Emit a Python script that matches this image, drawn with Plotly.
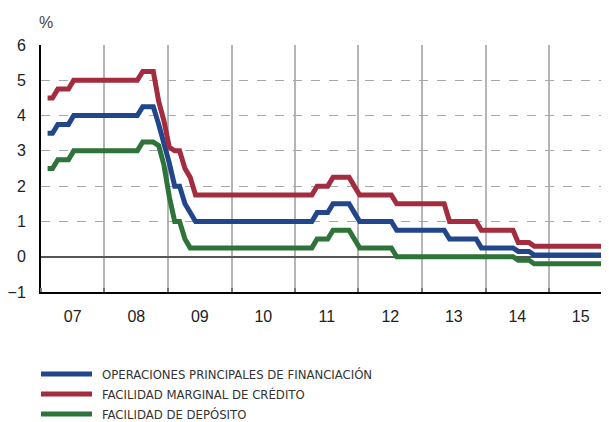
import pandas as pd
import plotly.graph_objects as go

# monthly data, Jan 2007 - Dec 2015
months = pd.date_range('2007-01-08', periods=108, freq='MS') + pd.Timedelta(days=7)

principal = [
    3.5, 3.5, 3.75, 3.75, 3.75, 4.0, 4.0, 4.0, 4.0, 4.0, 4.0, 4.0,          # 2007
    4.0, 4.0, 4.0, 4.0, 4.0, 4.0, 4.25, 4.25, 4.25, 3.75, 3.25, 2.65,       # 2008
    2.0, 2.0, 1.5, 1.25, 1.0, 1.0, 1.0, 1.0, 1.0, 1.0, 1.0, 1.0,            # 2009
    1.0, 1.0, 1.0, 1.0, 1.0, 1.0, 1.0, 1.0, 1.0, 1.0, 1.0, 1.0,             # 2010
    1.0, 1.0, 1.0, 1.25, 1.25, 1.25, 1.5, 1.5, 1.5, 1.5, 1.25, 1.0,         # 2011
    1.0, 1.0, 1.0, 1.0, 1.0, 1.0, 0.75, 0.75, 0.75, 0.75, 0.75, 0.75,       # 2012
    0.75, 0.75, 0.75, 0.75, 0.5, 0.5, 0.5, 0.5, 0.5, 0.5, 0.25, 0.25,       # 2013
    0.25, 0.25, 0.25, 0.25, 0.25, 0.15, 0.15, 0.15, 0.05, 0.05, 0.05, 0.05, # 2014
    0.05, 0.05, 0.05, 0.05, 0.05, 0.05, 0.05, 0.05, 0.05, 0.05, 0.05, 0.05, # 2015
]

marginal = [
    4.5, 4.5, 4.75, 4.75, 4.75, 5.0, 5.0, 5.0, 5.0, 5.0, 5.0, 5.0,
    5.0, 5.0, 5.0, 5.0, 5.0, 5.0, 5.25, 5.25, 5.25, 4.4, 3.85, 3.1,
    3.0, 3.0, 2.5, 2.25, 1.75, 1.75, 1.75, 1.75, 1.75, 1.75, 1.75, 1.75,
    1.75, 1.75, 1.75, 1.75, 1.75, 1.75, 1.75, 1.75, 1.75, 1.75, 1.75, 1.75,
    1.75, 1.75, 1.75, 2.0, 2.0, 2.0, 2.25, 2.25, 2.25, 2.25, 2.0, 1.75,
    1.75, 1.75, 1.75, 1.75, 1.75, 1.75, 1.5, 1.5, 1.5, 1.5, 1.5, 1.5,
    1.5, 1.5, 1.5, 1.5, 1.0, 1.0, 1.0, 1.0, 1.0, 1.0, 0.75, 0.75,
    0.75, 0.75, 0.75, 0.75, 0.75, 0.4, 0.4, 0.4, 0.3, 0.3, 0.3, 0.3,
    0.3, 0.3, 0.3, 0.3, 0.3, 0.3, 0.3, 0.3, 0.3, 0.3, 0.3, 0.3,
]

deposit = [
    2.5, 2.5, 2.75, 2.75, 2.75, 3.0, 3.0, 3.0, 3.0, 3.0, 3.0, 3.0,
    3.0, 3.0, 3.0, 3.0, 3.0, 3.0, 3.25, 3.25, 3.25, 3.15, 2.6, 1.7,
    1.0, 1.0, 0.5, 0.25, 0.25, 0.25, 0.25, 0.25, 0.25, 0.25, 0.25, 0.25,
    0.25, 0.25, 0.25, 0.25, 0.25, 0.25, 0.25, 0.25, 0.25, 0.25, 0.25, 0.25,
    0.25, 0.25, 0.25, 0.5, 0.5, 0.5, 0.75, 0.75, 0.75, 0.75, 0.5, 0.25,
    0.25, 0.25, 0.25, 0.25, 0.25, 0.25, 0.0, 0.0, 0.0, 0.0, 0.0, 0.0,
    0.0, 0.0, 0.0, 0.0, 0.0, 0.0, 0.0, 0.0, 0.0, 0.0, 0.0, 0.0,
    0.0, 0.0, 0.0, 0.0, 0.0, -0.1, -0.1, -0.1, -0.2, -0.2, -0.2, -0.2,
    -0.2, -0.2, -0.2, -0.2, -0.2, -0.2, -0.2, -0.2, -0.2, -0.2, -0.2, -0.3,
]

series_names = ['OPERACIONES PRINCIPALES DE FINANCIACIÓN',
                'FACILIDAD MARGINAL DE CRÉDITO',
                'FACILIDAD DE DEPÓSITO']
series_values = [principal, marginal, deposit]
colors = ['#21468c', '#a32c3f', '#2e7339']

fig = go.Figure()

for values, name, color in zip(series_values, series_names, colors):
    fig.add_trace(go.Scatter(x=months, y=values, name=name, mode='lines',
                             line=dict(color=color, width=5),
                             showlegend=False))

# hand-made legend below the plot
legend_y = [-0.332, -0.413, -0.494]
for name, color, ly in zip(series_names, colors, legend_y):
    fig.add_shape(type='line', xref='paper', yref='paper',
                  x0=0, x1=0.0898, y0=ly, y1=ly,
                  line=dict(color=color, width=5))
    fig.add_annotation(xref='paper', yref='paper', x=0.104, y=ly,
                       text=name, showarrow=False, xanchor='left', yanchor='middle',
                       font=dict(family='Liberation Sans Narrow, DejaVu Sans Condensed, Arial Narrow, sans-serif',
                                 size=13, color='#333333'))

fig.add_annotation(xref='paper', yref='paper', x=0.008, y=1.092, text='%',
                   showarrow=False, xanchor='center', yanchor='middle',
                   font=dict(size=16, color='#444444'))

# page body has an 8px margin, so the figure is a bit smaller than the window
fig.update_layout(
    width=601, height=414,
    margin=dict(l=33, r=0, t=37, b=130),
    plot_bgcolor='white', paper_bgcolor='white',
    font=dict(family='Liberation Sans, Arial, sans-serif', size=16, color='#222222'),
    xaxis=dict(
        type='date',
        range=['2007-01-01', '2015-12-12'],
        tick0='2007-01-01', dtick='M12',
        tickformat='%y', ticklabelmode='period',
        ticks='inside', ticklen=4, tickcolor='#777777', tickwidth=1.5,
        ticklabelstandoff=9,
        showgrid=True, gridcolor='#b5b5b5', gridwidth=1.5,
        showline=True, linecolor='black', linewidth=2,
        zeroline=False,
    ),
    yaxis=dict(
        range=[-1, 6], dtick=1, tick0=0,
        ticks='', ticklabelstandoff=10,
        showgrid=True, gridcolor='#a8a8a8', gridwidth=1, griddash='dash',
        zeroline=True, zerolinecolor='#555555', zerolinewidth=1.5,
        showline=True, linecolor='black', linewidth=2,
    ),
)

fig.write_html('out.html')
